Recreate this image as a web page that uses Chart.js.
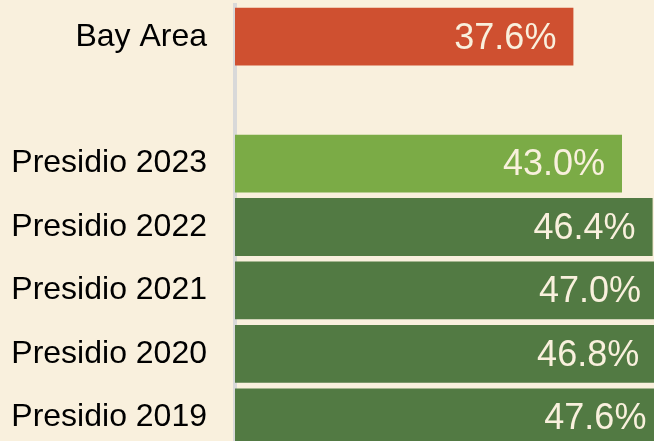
<!DOCTYPE html>
<html>
<head>
<meta charset="utf-8">
<script src="https://cdn.jsdelivr.net/npm/chart.js@4/dist/chart.umd.min.js"></script>
<style>
  html, body { margin: 0; padding: 0; background: #f9f0dd; overflow: hidden; }
  #wrap { position: absolute; left: 0; top: 0; width: 700px; height: 449px; }
</style>
</head>
<body>
<div id="wrap"><canvas id="chart" width="700" height="449"></canvas></div>
<script>
// rows top to bottom; the empty row is the gap under Bay Area
const categories = ['Bay Area', '', 'Presidio 2023', 'Presidio 2022', 'Presidio 2021', 'Presidio 2020', 'Presidio 2019'];
const values = [37.6, null, 43.0, 46.4, 47.0, 46.8, 47.6];
const barColors = ['#cf5030', '#f9f0dd', '#7bab46', '#527a43', '#527a43', '#527a43', '#527a43'];

const FONT = 'Arial, "Liberation Sans", sans-serif';
const CREAM = '#f9f0dd';

// value text inside the bar end
const valueLabels = {
  id: 'valueLabels',
  afterDatasetsDraw(chart) {
    const ctx = chart.ctx;
    const meta = chart.getDatasetMeta(0);
    ctx.save();
    ctx.font = '36px ' + FONT;
    ctx.fillStyle = CREAM;
    ctx.textAlign = 'right';
    ctx.textBaseline = 'middle';
    meta.data.forEach((bar, i) => {
      if (values[i] == null) return;
      ctx.fillText(values[i].toFixed(1) + '%', bar.x - 17, bar.y + 2);
    });
    ctx.restore();
  }
};

new Chart(document.getElementById('chart'), {
  type: 'bar',
  data: {
    labels: categories,
    datasets: [{
      data: values,
      backgroundColor: barColors,
      borderWidth: 0,
      barPercentage: 1,
      categoryPercentage: 0.911
    }]
  },
  options: {
    indexAxis: 'y',
    responsive: false,
    animation: false,
    devicePixelRatio: 1,
    layout: { padding: { top: 5, right: 15, left: 0, bottom: 0 } },
    plugins: { legend: { display: false }, tooltip: { enabled: false } },
    scales: {
      x: { display: false, min: 0, max: 50 },
      y: {
        afterFit(scale) {
          scale.width = 235;
          scale.paddingTop = 0;
          scale.paddingBottom = 0;
        },
        grid: { display: false, drawTicks: false },
        border: { display: true, color: '#d9d9d9', width: 4 },
        ticks: { color: '#000', padding: 28, font: { size: 32, family: FONT } }
      }
    }
  },
  plugins: [valueLabels]
});
</script>
</body>
</html>
